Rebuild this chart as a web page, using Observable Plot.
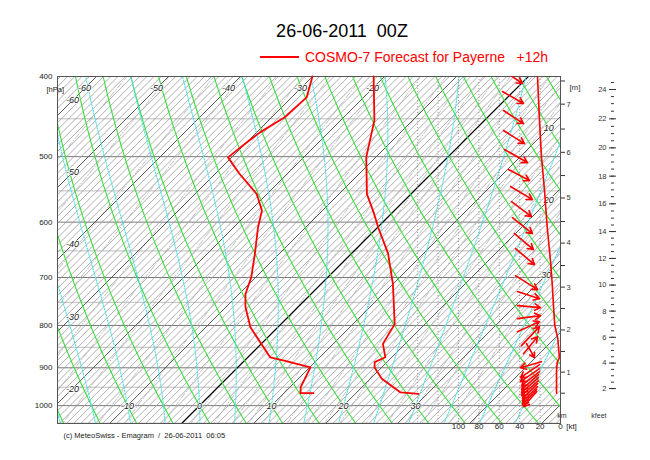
<!DOCTYPE html>
<html><head><meta charset="utf-8">
<script src="https://cdn.jsdelivr.net/npm/d3@7"></script>
<script src="https://cdn.jsdelivr.net/npm/@observablehq/plot@0.6"></script>
<style>
body{margin:0;background:#fff;font-family:"Liberation Sans",Arial,sans-serif;}
#wrap{position:relative;width:650px;height:460px;overflow:hidden}
#chart{position:absolute;top:0;left:0}
#title{position:absolute;top:22px;left:342px;transform:translateX(-50%);font-size:18px;line-height:18px;white-space:pre;color:#000}
#legend{position:absolute;top:50px;left:260px;font-size:14px;line-height:14px;white-space:pre;color:#ff0000;display:flex;align-items:center}
#legend .sw{width:39px;height:1.6px;background:#ff0000;margin-right:6px;flex:none}
</style></head><body>
<div id="wrap"><div id="chart"></div>
<div id="title">26-06-2011  00Z</div>
<div id="legend"><div class="sw"></div><span>COSMO-7 Forecast for Payerne   +12h</span></div>
</div>
<script>
// ---------- data ----------
const tempP = [400,452,501,555,586,609,655,713,797,842,874,886,899,928,964,968];
const tempT = [-21.5,-15.3,-11.3,-6.1,-2.4,0.1,5.1,10.0,15.8,16.9,19.1,18.3,19.0,21.6,26.1,28.8];
const dewP = [400,424,448,467,478,501,524,555,581,609,655,700,733,760,804,842,874,882,899,950,966,966];
const dewT = [-30.0,-27.9,-28.2,-29.5,-29.9,-30.5,-26.7,-21.4,-18.4,-16.6,-13.4,-10.6,-9.1,-7.3,-3.8,0.0,3.1,5.5,10.1,11.5,12.3,14.1];

// wind arrows: tail (kt, hPa) -> head (kt, hPa)
const windTailKt = [57.8,56.9,55.9,55.9,54.9,51.0,49.0,48.0,47.1,45.1,44.1, 44.1,42.2,42.2,42.2,42.2,38.2,36.3,33.3,18.6, 20.6,20.6,20.6,21.6,21.6,21.6,22.5,22.5,23.5,23.5];
const windTailP  = [392.0,417.1,439.7,464.9,490.2,518.3,543.4,566.6,592.4,619.4,645.9, 696.3,728.0,757.0,784.9,813.9,846.2,865.3,841.5,884.8, 892.2,902.2,909.8,917.4,925.1,932.9,940.7,948.6,956.6,961.9];
const windHeadKt = [37.3,36.3,36.3,35.3,32.4,30.4,27.5,28.4,27.5,26.5,25.5, 22.5,20.6,19.6,19.6,20.6,20.6,22.5,25.5,39.2, 39.2,39.2,38.2,38.2,38.2,38.2,37.3,37.3,37.3,36.3];
const windHeadP  = [407.9,431.2,456.0,482.1,508.3,534.4,563.5,590.8,619.4,647.6,675.3, 724.0,742.4,761.2,778.4,791.5,802.6,825.3,875.0,899.7, 925.1,935.5,946.0,956.6,964.6,972.7,980.8,989.1,997.4,1002.9];
// wind speed profile (kt)
const windLineP  = [401,452,501,549,609,668,713,767,800,830,858,875,886,907,966];
const windLineKt = [22.5,20.6,18.6,15.7,13.0,9.8,8.1,6.6,5.6,2.6,1.7,1.0,3.2,3.9,3.9];

// axes / labels
const pLabels = [400,500,600,700,800,900,1000];
const isobarMajor = [400,500,600,700,800,900,1000];
const isobarMinor = [450,550,650,750,850,950,1050];
const isoLabTopT = [-60,-50,-40,-30,-20];          // along 413.6 hPa
const isoLabLeftT = [-60,-50,-40,-30,-20];
const isoLabLeftP = [427.7,522.6,638.7,780.5,953.9];
const isoLabBottomT = [-10,0,10,20,30];            // at 1000 hPa
const isoLabRightT = [10,20,30];
const isoLabRightP = [462,564.6,694.7];
const ktLabels = [100,80,60,40,20,0];
const ktGrid = [20,40,60,80,100,120,140];
const kmVals = [0.5,1,1.5,2,2.5,3,3.5,4,4.5,5,5.5,6,6.5,7,7.5];
const kmP    = [966,911,860,810,763,719,677,636,599,561,527,494,463,432,405];
const kftMajor = [2,4,6,8,10,12,14,16,18,20,22,24];
const caption = "(c) MeteoSwiss - Emagram  /  26-06-2011  06:05";

// ---------- emagram geometry ----------
const SKEW = 49.86;                       // skew of isotherms (degC per ln p)
const X = (T, p) => T + SKEW * Math.log(1000 / p);
const xMin = -19.72, xMax = 50.14;
const kt100X = 35.97;                      // wind scale: 0 kt at right edge, 100 kt here
const ktToX = kt => xMax - kt * (xMax - kt100X) / 100;

const isoT = d3.range(-110, 61, 1);
const isoLines = isoT.flatMap(T => [380, 1070].map(p => ({id: T, p, x: X(T, p)})));
const thetas = d3.range(-40, 116, 5);
const pFine = d3.range(380, 1071, 10);
const dryLines = thetas.flatMap(th => pFine.map(p => ({id: th, p, x: X((th + 273.15) * Math.pow(p / 1000, 0.2857) - 273.15, p)})));
const wVals = [0.05,0.1,0.2,0.3,0.5,0.7,1,1.5,2,3,4,5,6,7,8,10,12,14,16,20,24,28,32,40,48];
const mixT = (w, p) => { const e = w * p / (622 + w); const l = Math.log(e / 6.112); return 243.5 * l / (17.67 - l); };
const mixLines = wVals.flatMap(w => d3.range(380, 1071, 20).map(p => ({id: w, p, x: X(mixT(w, p), p)})));
function moistLapse(T, p) {
  const Rd = 287.04, cp = 1005.7, Lv = 2.501e6, eps = 0.622;
  const es = 6.112 * Math.exp(17.67 * (T - 273.15) / (T - 29.65));
  const rs = eps * es / (p - es);
  return (Rd * T + Lv * rs) / (cp + Lv * Lv * rs * eps / (Rd * T * T)) / p;
}
function rk(T, p, dp) {
  const k1 = moistLapse(T, p), k2 = moistLapse(T + k1 * dp / 2, p + dp / 2);
  const k3 = moistLapse(T + k2 * dp / 2, p + dp / 2), k4 = moistLapse(T + k3 * dp, p + dp);
  return T + dp * (k1 + 2 * k2 + 2 * k3 + k4) / 6;
}
const thetaW = d3.range(-25, 46, 5);
const moistLines = thetaW.flatMap(tw => {
  const up = []; let T = tw + 273.15, p = 1000; up.push({p, T});
  while (p > 380) { T = rk(T, p, -5); p -= 5; up.push({p, T}); }
  const dn = []; T = tw + 273.15; p = 1000;
  while (p < 1070) { T = rk(T, p, 5); p += 5; dn.push({p, T}); }
  return [...dn.reverse(), ...up].map(d => ({id: tw, p: d.p, x: X(d.T - 273.15, d.p)}));
});

const temp = tempP.map((p, i) => ({p, T: tempT[i]}));
const dew = dewP.map((p, i) => ({p, T: dewT[i]}));
const winds = windTailKt.map((k, i) => ({k1: k, p1: windTailP[i], k2: windHeadKt[i], p2: windHeadP[i]}));
const windLine = windLineP.map((p, i) => ({p, k: windLineKt[i]}));
const isoLabels = [
  ...isoLabTopT.map(T => ({T, p: 413.6})),
  ...isoLabLeftT.map((T, i) => ({T, p: isoLabLeftP[i]})),
  ...isoLabBottomT.map(T => ({T, p: 1000})),
  ...isoLabRightT.map((T, i) => ({T, p: isoLabRightP[i]}))
];
const hToLogP = d3.scaleLinear().domain(kmVals).range(kmP.map(Math.log));
const kftToP = kft => Math.exp(hToLogP(kft * 0.3048));
const kftMinorP = d3.range(2, 24.6, 0.5).map(kftToP);
const kmLabel = new Map(kmVals.map((h, i) => [kmP[i], Number.isInteger(h) ? String(h) : ""]));
const nb = s => s.replace(/ /g, "\u00a0");
const font = "Liberation Sans, Arial, Helvetica, sans-serif";

const chart = Plot.plot({
  width: 650, height: 460,
  marginLeft: 57, marginRight: 90, marginTop: 76, marginBottom: 37,
  x: {domain: [xMin, xMax], axis: null},
  y: {type: "log", domain: [400, 1051], reverse: true, axis: null},
  style: {fontFamily: font, background: "white"},
  marks: [
    Plot.ruleY(isobarMinor, {stroke: "#bdbdbd", strokeWidth: 1}),
    Plot.ruleY(isobarMajor, {stroke: "#7a7a7a", strokeWidth: 1}),
    Plot.line(isoLines.filter(d => d.id % 10 !== 0), {x: "x", y: "p", z: "id", stroke: "#9a9a9a", strokeWidth: 0.8, clip: true}),
    Plot.line(mixLines, {x: "x", y: "p", z: "id", stroke: "#b0b0b0", strokeWidth: 0.8, strokeDasharray: "6,2,1,2", clip: true}),
    Plot.line(isoLines.filter(d => d.id % 10 === 0 && d.id !== 0), {x: "x", y: "p", z: "id", stroke: "#555", strokeWidth: 1, clip: true}),
    Plot.line(isoLines.filter(d => d.id === 0), {x: "x", y: "p", z: "id", stroke: "#000", strokeWidth: 1.3, clip: true}),
    Plot.line(dryLines, {x: "x", y: "p", z: "id", stroke: "#3cdc3c", strokeWidth: 1.1, clip: true}),
    Plot.line(moistLines, {x: "x", y: "p", z: "id", stroke: "#4fe0e6", strokeWidth: 1.1, strokeDasharray: "1.5,1.5", clip: true}),
    Plot.ruleX(ktGrid, {x: d => ktToX(d), stroke: "#8a8a8a", strokeWidth: 0.8, strokeDasharray: "1,2"}),
    Plot.frame({stroke: "#555"}),
    Plot.text(isoLabels, {x: d => X(d.T, d.p), y: "p", text: d => String(d.T), fontSize: 9, fontStyle: "italic", fill: "#222", stroke: "white", strokeWidth: 1.5, paintOrder: "stroke"}),
    Plot.text(pLabels, {y: d => d, frameAnchor: "left", dx: -5, textAnchor: "end", text: d => String(d), fontSize: 8, fill: "#222"}),
    Plot.text(["[hPa]"], {frameAnchor: "top-left", dx: -11, dy: 10, text: d => d, fontSize: 7.5, fill: "#222"}),
    Plot.text(ktLabels, {x: d => ktToX(d), frameAnchor: "bottom", dy: 5, text: d => String(d), fontSize: 8, fill: "#222"}),
    Plot.text(["[kt]"], {x: () => ktToX(0), frameAnchor: "bottom", dx: 11, dy: 5, text: d => d, fontSize: 8, fill: "#222"}),
    Plot.axisY({ticks: kmP, anchor: "right", tickSize: 4, tickPadding: 2, tickFormat: p => kmLabel.get(p), fontSize: 7.5, label: null, color: "#333"}),
    Plot.axisY({ticks: kftMajor.map(kftToP), anchor: "right", tickSize: 7, dx: 48, tickFormat: () => "", label: null, color: "#333"}),
    Plot.axisY({ticks: kftMinorP, anchor: "right", tickSize: 3, dx: 50, tickFormat: () => "", label: null, color: "#333"}),
    Plot.text(kftMajor, {y: d => kftToP(d), frameAnchor: "right", dx: 46, textAnchor: "end", text: d => String(d), fontSize: 7.5, fill: "#333"}),
    Plot.text(["[m]"], {frameAnchor: "top-right", dx: 20, dy: 8, text: d => d, fontSize: 8, fill: "#333"}),
    Plot.text(["km"], {frameAnchor: "bottom-right", dx: 6, dy: -6, text: d => d, fontSize: 7, fill: "#333"}),
    Plot.text(["kfeet"], {frameAnchor: "bottom-right", dx: 46, dy: -6, text: d => d, fontSize: 7, fill: "#333"}),
    Plot.text([caption], {frameAnchor: "bottom-left", dx: 6, dy: 14, textAnchor: "start", text: d => nb(d), fontSize: 7.5, fill: "#222"}),
    Plot.line(windLine, {x: d => ktToX(d.k), y: "p", stroke: "#f00", strokeWidth: 1.6}),
    Plot.arrow(winds, {x1: d => ktToX(d.k1), y1: "p1", x2: d => ktToX(d.k2), y2: "p2", stroke: "#f00", strokeWidth: 1.6, headLength: 6, clip: true}),
    Plot.line(temp, {x: d => X(d.T, d.p), y: "p", stroke: "#f00", strokeWidth: 1.8}),
    Plot.line(dew, {x: d => X(d.T, d.p), y: "p", stroke: "#f00", strokeWidth: 1.8})
  ]
});
document.getElementById("chart").appendChild(chart);
</script>
</body></html>
